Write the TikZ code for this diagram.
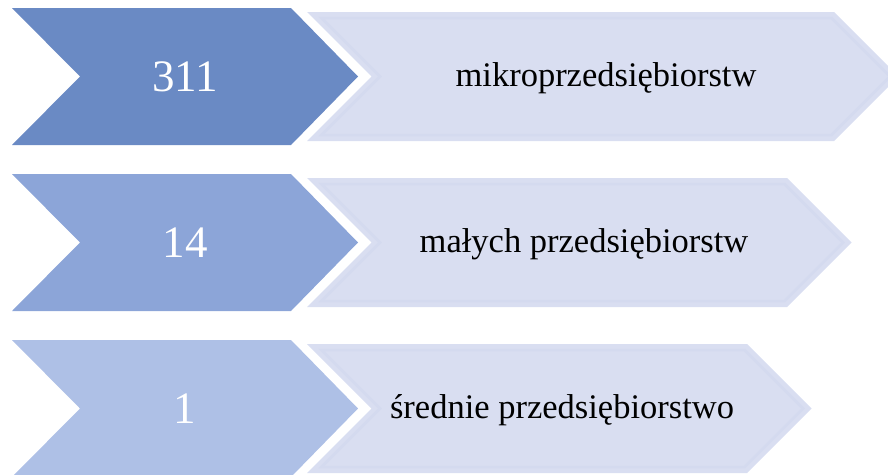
\documentclass[tikz,border=0pt]{standalone}
\usepackage{fontspec}
\setmainfont{Liberation Serif}
\definecolor{darkA}{HTML}{6A8AC4}
\definecolor{darkB}{HTML}{8CA5D8}
\definecolor{darkC}{HTML}{AEC0E6}
\definecolor{lightfill}{HTML}{D9DEF1}
\definecolor{lightline}{HTML}{D4DAEF}
\tikzset{
  numtext/.style={text=white, font=\fontsize{45}{45}\selectfont, anchor=base, inner sep=0pt},
  labtext/.style={text=black, font=\fontsize{34.5}{34.5}\selectfont, anchor=base, inner sep=0pt},
  innerband/.style={draw=lightline, line width=2.5pt, line join=miter}
}
\newcommand\myrow[7]{%
  \pgfmathsetmacro\rT{#2}%
  \pgfmathsetmacro\rB{#2+137}%
  \pgfmathsetmacro\rM{#2+68.5}%
  \fill[#3] (12,\rT) -- (291,\rT) -- (358,\rM) -- (291,\rB) -- (12,\rB) -- (80,\rM) -- cycle;
  \pgfmathsetmacro\lT{#2+4}%
  \pgfmathsetmacro\lB{#2+133}%
  \pgfmathsetmacro\lC{#4}%
  \pgfmathsetmacro\lTip{#4+64.5}%
  \fill[lightfill] (307,\lT) -- (\lC,\lT) -- (\lTip,\rM) -- (\lC,\lB) -- (307,\lB) -- (371.5,\rM) -- cycle;
  \draw[innerband] (321.5,\lT+6) -- (\lC-2.5,\lT+6) -- (\lTip-8.5,\rM) -- (\lC-2.5,\lB-6) -- (321.5,\lB-6) -- (380,\rM) -- cycle;
  \node[numtext] (#1n) at (185,\rM+15) {#5};
  \node[labtext] (#1l) at (#7,\rM+9.5) {#6};
}
\begin{document}
\begin{tikzpicture}[x=1pt,y=-1pt]
\useasboundingbox (0,0) rectangle (888,474);
\clip (0,0) rectangle (888,474);
\myrow{ra}{8}{darkA}{834}{311}{mikroprzedsiębiorstw}{606}
\myrow{rb}{174}{darkB}{787}{14}{małych przedsiębiorstw}{584}
\myrow{rc}{340}{darkC}{747}{1}{średnie przedsiębiorstwo}{562}
\end{tikzpicture}
\end{document}
